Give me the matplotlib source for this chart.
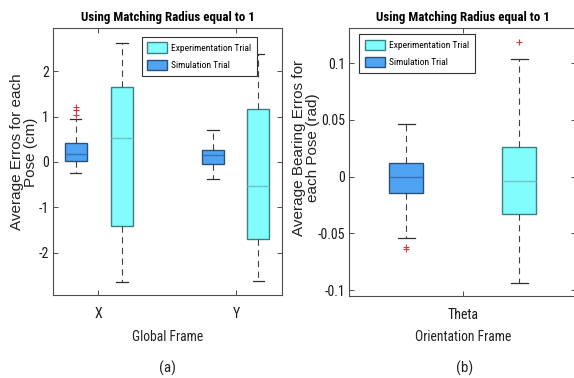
import matplotlib
matplotlib.use("Agg")
import matplotlib.pyplot as plt
from matplotlib.patches import Patch

NARROW = ['Liberation Sans Narrow', 'Roboto Condensed', 'DejaVu Sans Condensed', 'Liberation Sans', 'DejaVu Sans']
plt.rcParams['font.family'] = NARROW
plt.rcParams['lines.scale_dashes'] = False

# ---------------- data ----------------
series_names = ["Experimentation Trial", "Simulation Trial"]

# (a) Global frame, cm
cats_a = ["X", "Y"]
sim_a_whislo = [-0.24, -0.38]
sim_a_q1 = [0.03, -0.04]
sim_a_med = [0.17, 0.16]
sim_a_q3 = [0.41, 0.27]
sim_a_whishi = [0.94, 0.71]
sim_a_fliers = [[1.03, 1.14, 1.21], []]

exp_a_whislo = [-2.65, -2.63]
exp_a_q1 = [-1.42, -1.69]
exp_a_med = [0.53, -0.53]
exp_a_q3 = [1.64, 1.16]
exp_a_whishi = [2.62, 2.38]
exp_a_fliers = [[], []]

# (b) Orientation frame, rad
cats_b = ["Theta"]
sim_b_whislo = [-0.0543]
sim_b_q1 = [-0.0147]
sim_b_med = [0.0]
sim_b_q3 = [0.0123]
sim_b_whishi = [0.0465]
sim_b_fliers = [[-0.0620, -0.0635]]

exp_b_whislo = [-0.0935]
exp_b_q1 = [-0.033]
exp_b_med = [-0.0040]
exp_b_q3 = [0.0265]
exp_b_whishi = [0.104]
exp_b_fliers = [[0.119]]

# ---------------- style ----------------
W, H = 574, 378
SIM_FACE = '#4ea3f2'
SIM_EDGE = '#2d4f78'
SIM_MED = '#3570b8'
EXP_FACE = '#80fdfc'
EXP_EDGE = '#3f7f80'
EXP_MED = '#6cc4c4'
AX_COL = '#4d4d4d'


def stats(wlo, q1, med, q3, whi, fl):
    return [dict(whislo=a, q1=b, med=c, q3=d, whishi=e, fliers=f)
            for a, b, c, d, e, f in zip(wlo, q1, med, q3, whi, fl)]


def draw(ax, st, pos, width, face, edge, medc):
    ax.bxp(st, positions=pos, widths=width, patch_artist=True, manage_ticks=False,
           boxprops=dict(facecolor=face, edgecolor=edge, linewidth=1.0),
           medianprops=dict(color=medc, linewidth=1.0),
           whiskerprops=dict(color='#404040', linewidth=0.8, linestyle=(0, (4.5, 3.2))),
           capprops=dict(color='#303030', linewidth=0.9),
           flierprops=dict(marker='+', markeredgecolor='#c83c3c', markersize=5,
                           markeredgewidth=0.8, linestyle='none'))


def style_axes(ax):
    for s in ax.spines.values():
        s.set_color(AX_COL)
        s.set_linewidth(0.8)
    ax.tick_params(direction='in', length=3.5, width=0.7, color=AX_COL,
                   top=True, right=True, labelsize=10, labelcolor='#1a1a1a')
    ax.tick_params(axis='x', pad=9)
    ax.tick_params(axis='y', pad=3)


fig = plt.figure(figsize=(W / 100, H / 100), dpi=100)


def fx(x):
    return x / W


def fy(y):
    return 1 - y / H


TITLE_FS = 9.4

# ---- (a) ----
ax1 = fig.add_axes([fx(53), fy(295), fx(282 - 53), (295 - 28) / H])
draw(ax1, stats(sim_a_whislo, sim_a_q1, sim_a_med, sim_a_q3, sim_a_whishi, sim_a_fliers),
     [0.84, 1.833], 0.16, SIM_FACE, SIM_EDGE, SIM_MED)
draw(ax1, stats(exp_a_whislo, exp_a_q1, exp_a_med, exp_a_q3, exp_a_whishi, exp_a_fliers),
     [1.174, 2.16], 0.16, EXP_FACE, EXP_EDGE, EXP_MED)
ax1.set_xlim(0.674, 2.333)
ax1.set_ylim(-2.93, 2.95)
ax1.set_xticks([1, 2])
ax1.set_xticklabels(cats_a)
ax1.set_yticks([-2, -1, 0, 1, 2])
ax1.set_yticklabels(['-2', '-1', '0', '1', '2'])
style_axes(ax1)
ax1.set_title("Using Matching Radius equal to 1", fontsize=TITLE_FS, fontweight='bold', pad=5)

# ---- (b) ----
ax2 = fig.add_axes([fx(349.3), fy(295.7), fx(576.1 - 349.3), (295.7 - 28) / H])
draw(ax2, stats(sim_b_whislo, sim_b_q1, sim_b_med, sim_b_q3, sim_b_whishi, sim_b_fliers),
     [0.751], 0.15, SIM_FACE, SIM_EDGE, SIM_MED)
draw(ax2, stats(exp_b_whislo, exp_b_q1, exp_b_med, exp_b_q3, exp_b_whishi, exp_b_fliers),
     [1.25], 0.15, EXP_FACE, EXP_EDGE, EXP_MED)
ax2.set_xlim(0.5, 1.5)
ax2.set_ylim(-0.105, 0.131)
ax2.set_xticks([1])
ax2.set_xticklabels(cats_b)
ax2.set_yticks([-0.1, -0.05, 0, 0.05, 0.1])
ax2.set_yticklabels(['-0.1', '-0.05', '0', '0.05', '0.1'])
style_axes(ax2)
ax2.set_title("Using Matching Radius equal to 1", fontsize=TITLE_FS, fontweight='bold', pad=5)

# ---- legends ----
handles = [Patch(facecolor=EXP_FACE, edgecolor=EXP_EDGE, linewidth=1.0),
           Patch(facecolor=SIM_FACE, edgecolor=SIM_EDGE, linewidth=1.0)]
for ax, (lx, ly) in ((ax1, (141.7, 36.7)), (ax2, (359, 34))):
    leg = ax.legend(handles, series_names, loc='upper left',
                    bbox_to_anchor=(fx(lx), fy(ly)), bbox_transform=fig.transFigure,
                    fontsize=6.8, frameon=True, fancybox=False, framealpha=1,
                    edgecolor='#333333', handlelength=2.1, handleheight=1.35,
                    handletextpad=0.45, borderpad=0.6, labelspacing=0.7,
                    borderaxespad=0)
    leg.get_frame().set_linewidth(0.8)

# ---- axis labels ----
ylab_font = ['Liberation Sans', 'DejaVu Sans']
fig.text(fx(24), fy(152), "Average Erros for each\nPose (cm)", rotation=90,
         ha='center', va='center', multialignment='center', fontsize=11,
         family=ylab_font, color='#222222', linespacing=0.95)
fig.text(fx(306), fy(148), "Average Bearing Erros for\neach Pose (rad)", rotation=90,
         ha='center', va='center', multialignment='center', fontsize=11,
         family=ylab_font, color='#222222', linespacing=0.95)

fig.text(fx(167.5), fy(336.7), "Global Frame", ha='center', va='center', fontsize=9.8, color='#222222')
fig.text(fx(462.7), fy(336.7), "Orientation Frame", ha='center', va='center', fontsize=9.8, color='#222222')
fig.text(fx(167.5), fy(368), "(a)", ha='center', va='center', fontsize=11, color='#222222')
fig.text(fx(465), fy(368), "(b)", ha='center', va='center', fontsize=11, color='#222222')

fig.savefig("out.png", dpi=100)
